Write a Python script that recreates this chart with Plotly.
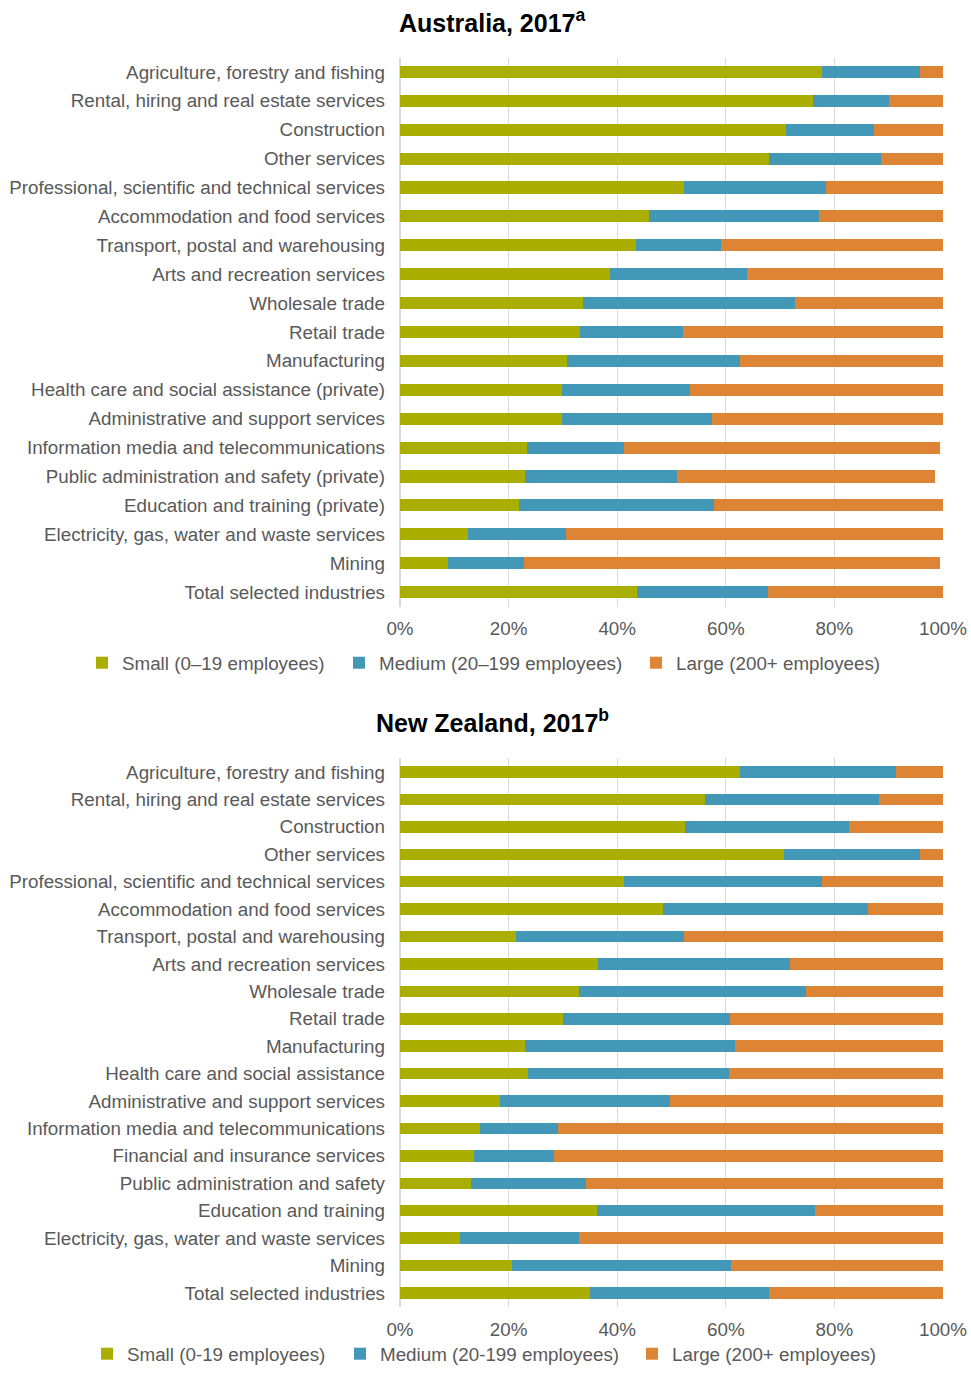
import plotly.graph_objects as go

# Australia, 2017
au_industries = [
    "Agriculture, forestry and fishing",
    "Rental, hiring and real estate services",
    "Construction",
    "Other services",
    "Professional, scientific and technical services",
    "Accommodation and food services",
    "Transport, postal and warehousing",
    "Arts and recreation services",
    "Wholesale trade",
    "Retail trade",
    "Manufacturing",
    "Health care and social assistance (private)",
    "Administrative and support services",
    "Information media and telecommunications",
    "Public administration and safety (private)",
    "Education and training (private)",
    "Electricity, gas, water and waste services",
    "Mining",
    "Total selected industries",
]
au_small = [77.7, 76.0, 71.0, 68.0, 52.3, 45.8, 43.4, 38.7, 33.7, 33.2,
            30.8, 29.9, 29.9, 23.4, 23.0, 22.0, 12.5, 8.8, 43.7]
au_medium = [18.0, 14.0, 16.3, 20.5, 26.1, 31.4, 15.8, 25.2, 39.1, 18.9,
             31.8, 23.5, 27.6, 17.9, 28.1, 35.9, 18.1, 14.0, 24.1]
au_large = [4.3, 10.0, 12.7, 11.5, 21.6, 22.8, 40.8, 36.1, 27.2, 47.9,
            37.4, 46.6, 42.5, 58.1, 47.5, 42.1, 69.4, 76.6, 32.2]

# New Zealand, 2017
nz_industries = [
    "Agriculture, forestry and fishing",
    "Rental, hiring and real estate services",
    "Construction",
    "Other services",
    "Professional, scientific and technical services",
    "Accommodation and food services",
    "Transport, postal and warehousing",
    "Arts and recreation services",
    "Wholesale trade",
    "Retail trade",
    "Manufacturing",
    "Health care and social assistance",
    "Administrative and support services",
    "Information media and telecommunications",
    "Financial and insurance services",
    "Public administration and safety",
    "Education and training",
    "Electricity, gas, water and waste services",
    "Mining",
    "Total selected industries",
]
nz_small = [62.7, 56.2, 52.5, 70.7, 41.3, 48.5, 21.3, 36.5, 33.0, 30.0,
            23.1, 23.5, 18.5, 14.7, 13.6, 13.0, 36.3, 11.1, 20.7, 35.0]
nz_medium = [28.7, 32.1, 30.2, 25.0, 36.5, 37.7, 31.0, 35.4, 41.7, 30.8,
             38.6, 37.1, 31.3, 14.4, 14.8, 21.2, 40.2, 21.9, 40.3, 33.0]
nz_large = [8.6, 11.7, 17.3, 4.3, 22.2, 13.8, 47.7, 28.1, 25.3, 39.2,
            38.3, 39.4, 50.2, 70.9, 71.6, 65.8, 23.5, 67.0, 39.0, 32.0]

au_names = ["Small (0–19 employees)", "Medium (20–199 employees)", "Large (200+ employees)"]
nz_names = ["Small (0-19 employees)", "Medium (20-199 employees)", "Large (200+ employees)"]
colors = ["#A9AE00", "#4397B7", "#DD8535"]

FONT = "Liberation Sans, Arial, sans-serif"
GREY = "#595959"
FS = 18.8

W, H = 971.0, 1373.0
L, R = 400, 28
PW = W - L - R


def px_x(page_x):
    # page pixel -> paper x
    return (page_x - L) / PW


def px_y(page_y):
    return 1 - page_y / H


fig = go.Figure()

# one legend per entry so each legend row stays on one line
au_legend_x = [122, 379, 676]
nz_legend_x = [127, 380, 672]

for i, (name, vals, color) in enumerate(zip(au_names, [au_small, au_medium, au_large], colors)):
    fig.add_trace(go.Bar(
        y=au_industries, x=vals, name=name, orientation="h",
        marker=dict(color=color, line=dict(width=0)),
        xaxis="x", yaxis="y", legend="legend" if i == 0 else f"legend{i + 1}",
        showlegend=True,
    ))

for i, (name, vals, color) in enumerate(zip(nz_names, [nz_small, nz_medium, nz_large], colors)):
    fig.add_trace(go.Bar(
        y=nz_industries, x=vals, name=name, orientation="h",
        marker=dict(color=color, line=dict(width=0)),
        xaxis="x2", yaxis="y2", legend=f"legend{i + 4}",
        showlegend=True,
    ))

xaxis_common = dict(
    range=[0, 100], dtick=20, ticksuffix="%", showgrid=True,
    gridcolor="#D9D9D9", gridwidth=1, zeroline=True, zerolinecolor="#D9D9D9",
    tickfont=dict(family=FONT, size=FS, color=GREY), ticklabelstandoff=9,
    fixedrange=True,
)
yaxis_common = dict(
    autorange="reversed", showgrid=False, zeroline=False,
    tickfont=dict(family=FONT, size=FS, color=GREY), ticklabelstandoff=14,
    ticks="", showline=False,
)


def legend_at(text_x, page_y=None):
    d = dict(
        orientation="h", xanchor="left", x=px_x(text_x - 40),
        font=dict(family=FONT, size=FS, color=GREY), bgcolor="rgba(0,0,0,0)",
        itemwidth=30, borderwidth=0,
    )
    if page_y is None:
        # bottom row: sit on the bottom edge so no margin gets pushed
        d.update(yanchor="bottom", y=0)
    else:
        d.update(yanchor="middle", y=px_y(page_y))
    return d


legends = {}
for i, tx in enumerate(au_legend_x):
    legends["legend" if i == 0 else f"legend{i + 1}"] = legend_at(tx, 663)
for i, tx in enumerate(nz_legend_x):
    legends[f"legend{i + 4}"] = legend_at(tx)

fig.update_layout(
    width=W, height=H,
    margin=dict(l=L, r=R, t=0, b=0),
    paper_bgcolor="white", plot_bgcolor="white",
    barmode="stack", bargap=0.58, showlegend=True,
    xaxis=dict(domain=[0, 1], anchor="y", **xaxis_common),
    yaxis=dict(domain=[px_y(606.5), px_y(57.5)], anchor="x", **yaxis_common),
    xaxis2=dict(domain=[0, 1], anchor="y2", **xaxis_common),
    yaxis2=dict(domain=[px_y(1306.7), px_y(758.3)], anchor="x2", **yaxis_common),
    annotations=[
        dict(text="<b>Australia, 2017<sup>a</sup></b>", xref="paper", yref="paper",
             x=px_x(492), y=px_y(21), xanchor="center", yanchor="middle",
             showarrow=False, font=dict(family=FONT, size=25, color="black")),
        dict(text="<b>New Zealand, 2017<sup>b</sup></b>", xref="paper", yref="paper",
             x=px_x(492), y=px_y(721), xanchor="center", yanchor="middle",
             showarrow=False, font=dict(family=FONT, size=25, color="black")),
    ],
    **legends,
)

# drop the browser's default body margin so the figure fills the window
fig.write_html(
    "out.html",
    config={"displayModeBar": False},
    post_script="document.body.style.margin='0';",
)
